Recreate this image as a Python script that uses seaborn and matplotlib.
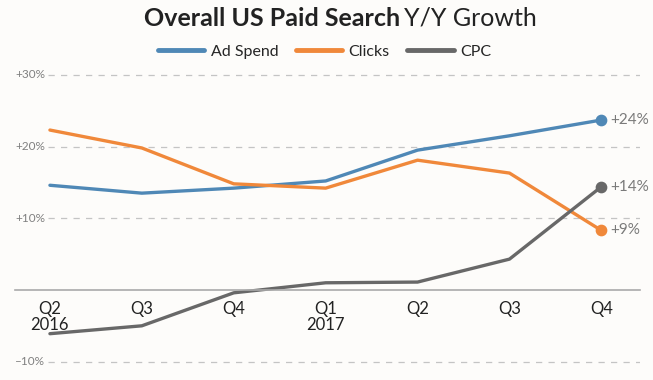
import pandas as pd
import seaborn as sns
import matplotlib.pyplot as plt

quarters = ['Q2\n2016', 'Q3', 'Q4', 'Q1\n2017', 'Q2', 'Q3', 'Q4']
ad_spend = [14.6, 13.5, 14.2, 15.2, 19.5, 21.5, 23.7]
clicks = [22.3, 19.8, 14.8, 14.2, 18.1, 16.3, 8.3]
cpc = [-6.1, -5.0, -0.4, 1.0, 1.1, 4.3, 14.4]
end_labels = ['+24%', '+9%', '+14%']
ytick_vals = [30, 20, 10, -10]
ytick_labels = ['+30%', '+20%', '+10%', '\u201310%']

series = ['Ad Spend', 'Clicks', 'CPC']
colors = ['#4f88b6', '#f0883a', '#686868']

df = pd.DataFrame({
    'q': list(range(len(quarters))) * 3,
    'value': ad_spend + clicks + cpc,
    'series': [s for s in series for _ in quarters],
})

sns.set_theme(style='white')
plt.rcParams['font.family'] = ['Lato', 'DejaVu Sans']
bg = '#fdfcfa'

fig = plt.figure(figsize=(6.53, 3.80), dpi=100, facecolor=bg)
ax = fig.add_axes([15 / 653, 1 - 376 / 380, 625 / 653, 315.5 / 380])
ax.set_facecolor(bg)

sns.lineplot(data=df, x='q', y='value', hue='series', palette=colors,
             linewidth=2.4, ax=ax, legend=True)

ax.set_xlim(-0.38, 6.42)
ax.set_ylim(-12, 32)

# dashed gridlines with labels on the left
for v, lab in zip(ytick_vals, ytick_labels):
    ax.hlines(v, -0.02, 6.42, colors='#c4c4c4', linestyles=(0, (5, 5)), linewidth=0.9, zorder=0)
    ax.text(-0.38, v, lab, ha='left', va='center', fontsize=8.5, color='#808080')

# end points and labels
last = [ad_spend[-1], clicks[-1], cpc[-1]]
for v, c, lab in zip(last, colors, end_labels):
    ax.scatter([6], [v], s=55, color=c, zorder=5)
    ax.text(6.1, v, lab, ha='left', va='center', fontsize=11, color='#7a7a7a')

for s in ['top', 'right', 'left']:
    ax.spines[s].set_visible(False)
ax.spines['bottom'].set_position(('data', 0))
ax.spines['bottom'].set_color('#aaaaaa')
ax.spines['bottom'].set_linewidth(1.2)
ax.set_xticks(range(len(quarters)))
ax.set_xticklabels(quarters, fontsize=12, color='#222222', linespacing=1.0)
ax.tick_params(axis='x', length=0, pad=8)
ax.set_yticks([])
ax.set_xlabel('')
ax.set_ylabel('')

handles, labels = ax.get_legend_handles_labels()
ax.legend_.remove()
fig.legend(handles, labels, loc='center', bbox_to_anchor=(0.497, 1 - 52 / 380), ncol=3,
           frameon=False, fontsize=11.5, handlelength=2.9, columnspacing=1.1,
           handletextpad=0.4)
for h in fig.legends[0].legend_handles:
    h.set_linewidth(3.5)

fig.text(0.612, 1 - 18 / 380, 'Overall US Paid Search', ha='right', va='center',
         fontsize=18, fontweight='bold', color='#222222')
fig.text(0.619, 1 - 18 / 380, 'Y/Y Growth', ha='left', va='center',
         fontsize=18, color='#222222')

fig.savefig('out.png', dpi=100, facecolor=bg)
